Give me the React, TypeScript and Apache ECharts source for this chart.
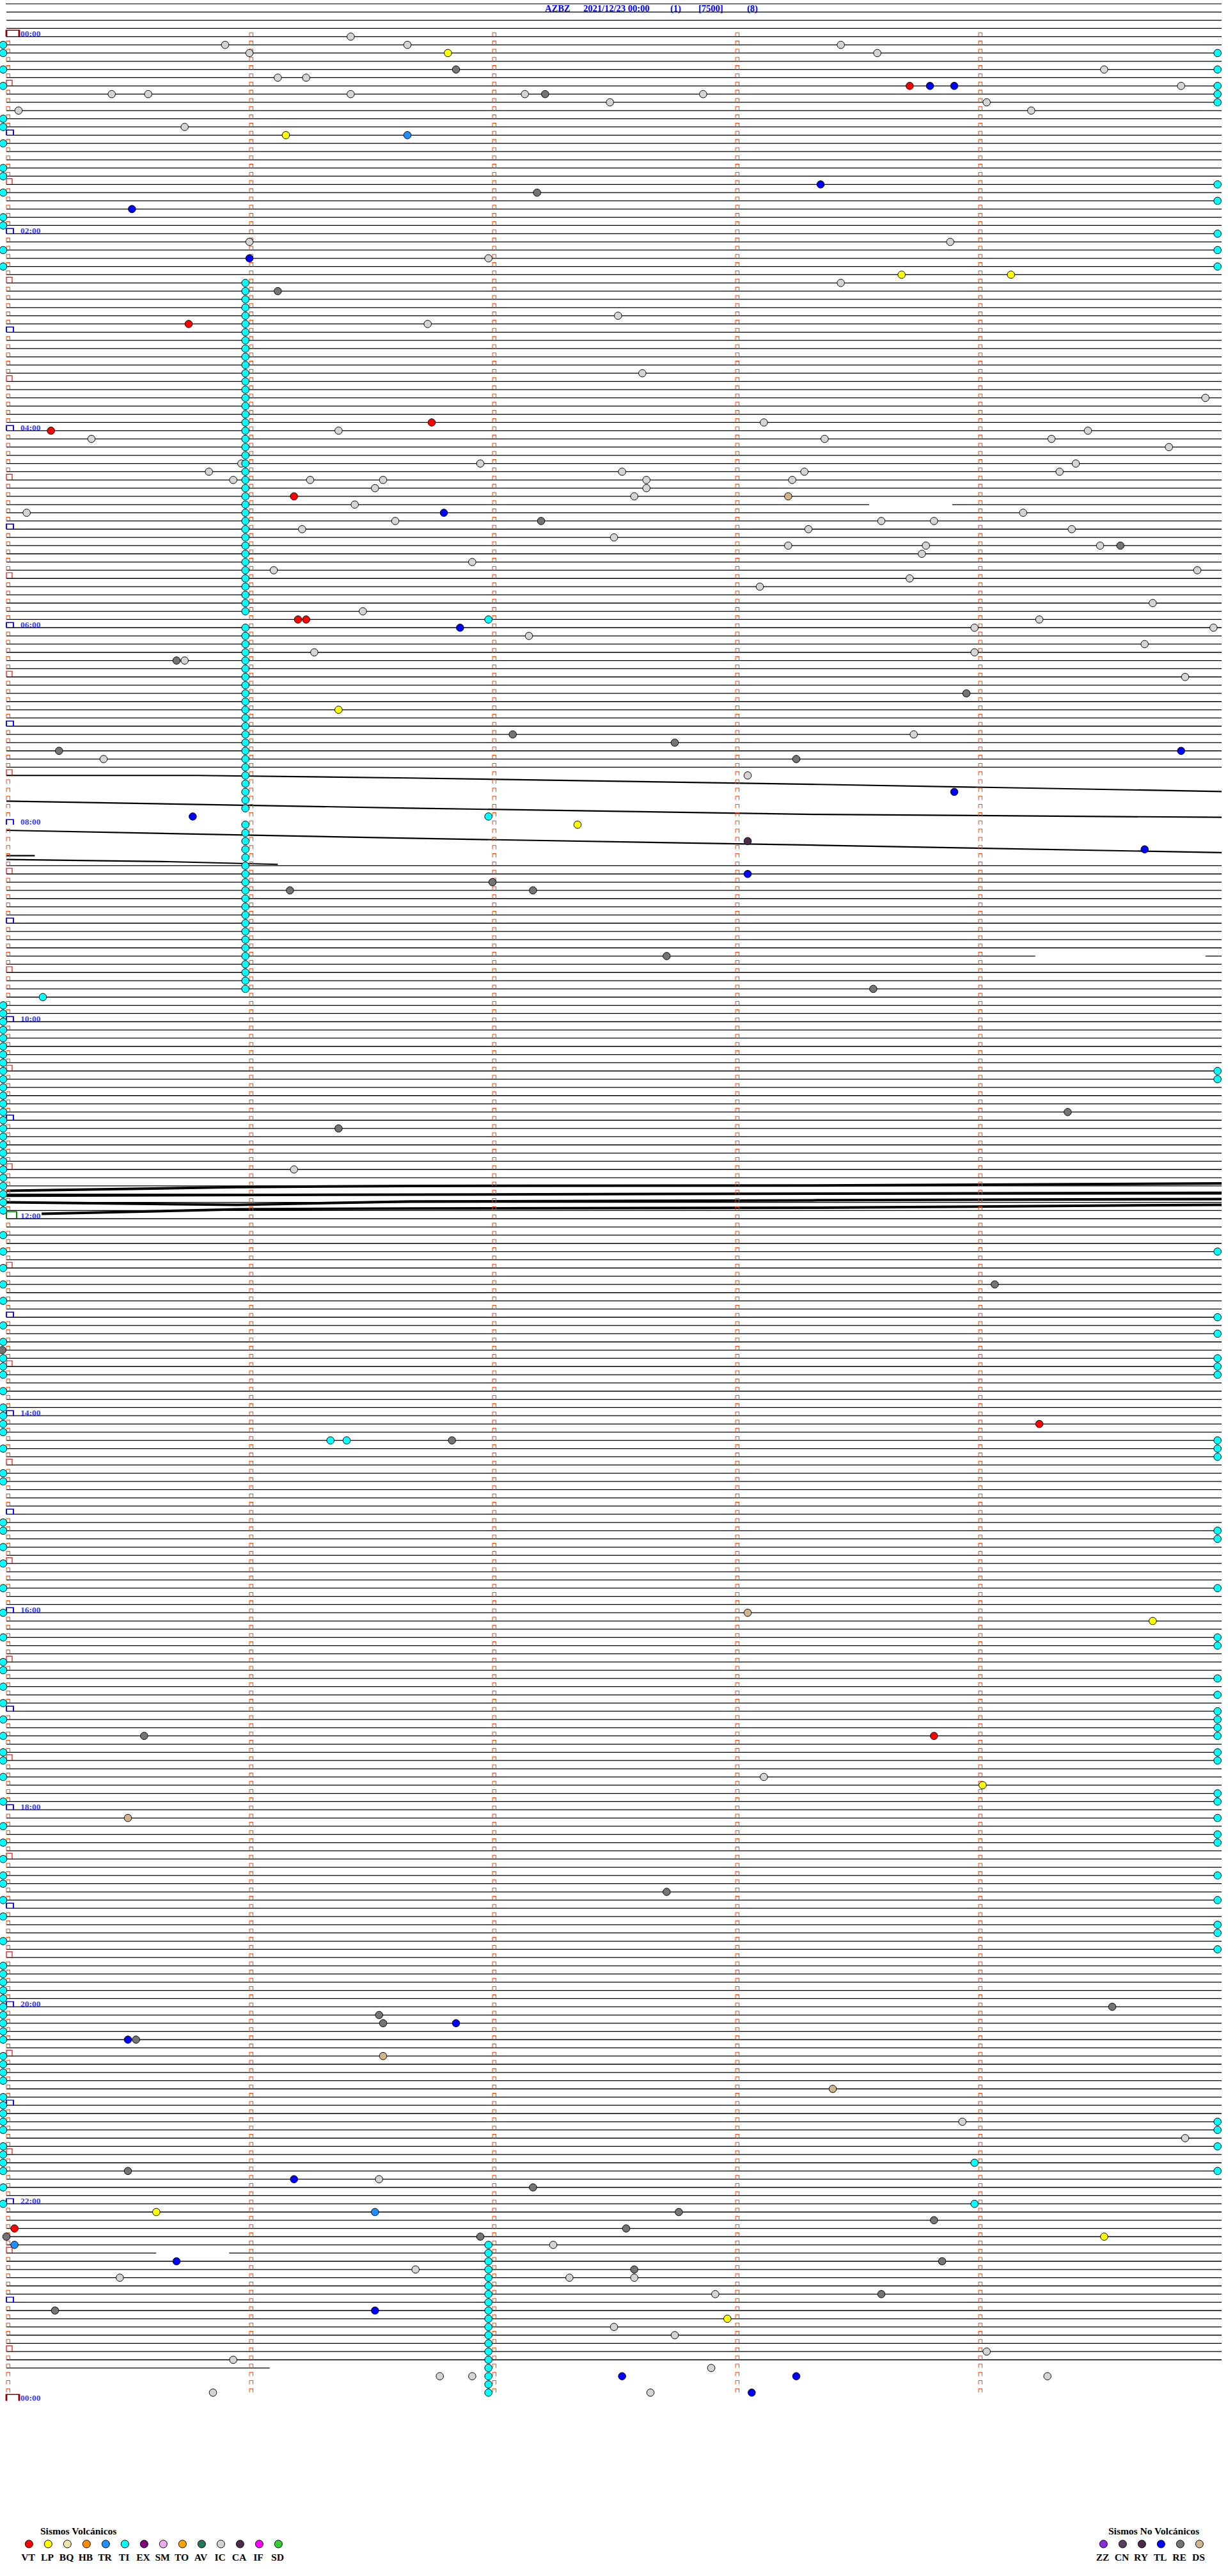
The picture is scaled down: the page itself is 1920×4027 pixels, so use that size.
import React, { useEffect, useRef } from 'react';
import * as echarts from 'echarts';

// ---------- chart texts ----------
const TITLE_PARTS = ['AZBZ', '2021/12/23 00:00', '(1)', '[7500]', '(8)'];
const TITLE_X = [852, 912, 1048, 1092, 1168];
const HOUR_LABELS = ['00:00', '02:00', '04:00', '06:00', '08:00', '10:00', '12:00', '14:00', '16:00', '18:00', '20:00', '22:00', '00:00'];

// ---------- helicorder structure (line index = 5-minute row, x = seconds in row) ----------
const FIRST_LINE = -4;
const LAST_LINE = 284;
const LAST_LINE_END = 65; // seconds of data on the last row
const LAST_MARK_LINE = 287;
const MINUTE_MARKS = [0, 60, 120, 180, 240];
const MISSING_LINES = [91, 92, 94, 95, 97, 98, 99];
const NOISY_LINES = [90, 93, 96, 100];
// [line, gapStartSec, gapEndSec]
const GAPS = [[57, 213, 233.5], [112, 254, 296], [270, 37, 55]];

// noisy traces [sec, line position]
const TRACE_90 = [[0, 90], [47, 90], [99.5, 90.31], [200.5, 91.09], [300, 91.95]];
const TRACE_93 = [[0, 93.12], [99.5, 93.98], [200.5, 94.75], [300, 95.1]];
const TRACE_96 = [[0, 96.68], [99.5, 97.65], [200.5, 98.5], [300, 99.4]];
const TRACE_100 = [[0, 100.23], [40, 100.5], [67, 100.83]];
const TRACE_100B = [[0, 99.77], [7, 99.77]];
const BAND_140 = [[0, 140.6], [57, 140.15], [100, 140.0], [200, 139.95], [300, 139.7]];
const BAND_141 = [[0, 141.2], [100, 141.05], [200, 140.95], [300, 140.85]];
const BAND_142 = [[0, 142.0], [57, 142.3], [100, 141.9], [200, 141.75], [300, 141.6]];
const BAND_143 = [[8.7, 143.4], [57, 142.85], [100, 142.75], [200, 142.65], [300, 142.3]];

// ---------- legend ----------
const VOLC_TYPES = ['VT', 'LP', 'BQ', 'HB', 'TR', 'TI', 'EX', 'SM', 'TO', 'AV', 'IC', 'CA', 'IF', 'SD'];
const VOLC_COLORS = ['#ff0000', '#ffff00', '#eee8aa', '#ff8c00', '#1e90ff', '#00ffff', '#800080', '#eeaaee', '#ffa500', '#1f7a55', '#d4d4d4', '#4b2d4b', '#ff00ff', '#32cd32'];
const NONVOLC_TYPES = ['ZZ', 'CN', 'RY', 'TL', 'RE', 'DS'];
const NONVOLC_COLORS = ['#8a2be2', '#55405f', '#4b2a4b', '#0000ff', '#747474', '#d2b48c'];

// ---------- events [line, sec] ----------
const EV_VT = [[6, 223], [35, 45], [47, 105], [48, 11], [56, 71], [71, 72], [71, 74], [169, 255], [207, 229], [267, 2]];
const EV_LP = [[2, 109], [12, 69], [29, 221], [29, 248], [82, 82], [96, 141], [193, 283], [213, 241], [265, 37], [268, 271], [278, 178]];
const EV_TR = [[12, 99], [265, 91], [269, 2]];
const EV_CA = [[98, 183]];
const EV_DS = [[56, 193], [192, 183], [217, 30], [246, 93], [250, 204]];
const EV_TL = [[6, 228], [6, 234], [18, 201], [21, 31], [27, 60], [58, 108], [72, 112], [87, 290], [92, 234], [95, 46], [99, 281], [102, 183], [242, 111], [244, 30], [261, 71], [271, 42], [277, 91], [285, 152], [285, 195], [287, 184]];
const EV_RE = [[4, 111], [7, 133], [19, 131], [31, 67], [59, 132], [62, 275], [76, 42], [80, 237], [85, 125], [86, 165], [87, 13], [88, 195], [104, 70], [103, 120], [104, 130], [112, 163], [116, 214], [131, 262], [133, 82], [152, 244], [160, -1], [171, 110], [207, 34], [226, 163], [240, 273], [241, 92], [242, 93], [244, 32], [260, 30], [262, 130], [265, 166], [268, 0], [267, 153], [268, 117], [266, 229], [271, 231], [272, 155], [275, 216], [277, 12]];
const EV_IC = [[1, 54], [0, 85], [1, 99], [2, 60], [1, 206], [2, 215], [5, 67], [5, 74], [4, 271], [6, 290], [7, 26], [7, 35], [7, 85], [7, 128], [7, 172], [8, 149], [8, 242], [9, 3], [9, 253], [11, 44], [25, 233], [25, 60], [27, 119], [30, 206], [34, 151], [35, 104], [41, 157], [44, 296], [49, 21], [48, 82], [47, 187], [49, 202], [49, 258], [48, 267], [50, 287], [52, 117], [53, 50], [54, 56], [52, 58], [54, 75], [54, 93], [55, 91], [53, 152], [54, 158], [55, 158], [56, 155], [54, 194], [53, 197], [52, 264], [53, 260], [57, 86], [58, 5], [59, 96], [60, 73], [61, 150], [59, 216], [59, 229], [58, 251], [60, 263], [60, 198], [62, 193], [62, 227], [63, 226], [62, 270], [64, 115], [65, 66], [66, 223], [67, 186], [65, 294], [69, 283], [70, 88], [73, 129], [72, 239], [71, 255], [72, 298], [74, 281], [75, 76], [75, 239], [76, 44], [78, 291], [85, 224], [88, 24], [90, 183], [138, 71], [212, 187], [254, 236], [256, 291], [261, 92], [269, 135], [272, 101], [273, 28], [273, 139], [273, 155], [275, 175], [279, 150], [280, 165], [282, 242], [283, 56], [284, 174], [285, 107], [285, 115], [285, 257], [287, 51], [287, 159]];
const EV_TI = [[71, 119], [95, 119], [117, 9], [171, 80], [171, 84], [259, 239], [264, 239]];
const TI_LEFT_SEC = -0.8;
const TI_LEFT_LINES = [1, 2, 4, 6, 10, 11, 13, 16, 17, 19, 22, 23, 26, 28, 118, 119, 120, 121, 122, 123, 124, 125, 126, 127, 128, 129, 130, 131, 132, 133, 134, 135, 136, 137, 138, 139, 140, 141, 142, 143, 146, 148, 150, 152, 154, 157, 159, 161, 162, 163, 165, 167, 168, 169, 170, 172, 175, 176, 181, 182, 184, 186, 189, 192, 195, 198, 199, 201, 203, 205, 207, 209, 210, 212, 215, 218, 220, 222, 224, 225, 227, 229, 232, 235, 236, 237, 238, 239, 240, 241, 242, 243, 244, 246, 247, 248, 249, 251, 252, 253, 254, 255, 257, 258, 259, 260, 262, 264];
const TI_RIGHT_SEC = 299;
const TI_RIGHT_LINES = [2, 4, 6, 7, 8, 18, 20, 24, 26, 28, 126, 127, 148, 156, 158, 161, 162, 163, 171, 172, 173, 182, 183, 189, 195, 196, 200, 202, 204, 205, 206, 207, 209, 210, 214, 215, 217, 219, 220, 224, 227, 230, 231, 233, 254, 255, 257, 260];
const TI_COL_A_SEC = 59;
const TI_COL_A_LINES = [30, 31, 32, 33, 34, 35, 36, 37, 38, 39, 40, 41, 42, 43, 44, 45, 46, 47, 48, 49, 50, 51, 52, 53, 54, 55, 56, 57, 58, 59, 60, 61, 62, 63, 64, 65, 66, 67, 68, 69, 70, 72, 73, 74, 75, 76, 77, 78, 79, 80, 81, 82, 83, 84, 85, 86, 87, 88, 89, 90, 91, 92, 93, 94, 96, 97, 98, 99, 100, 101, 102, 103, 104, 105, 106, 107, 108, 109, 110, 111, 112, 113, 114, 115, 116];
const TI_COL_B_SEC = 119;
const TI_COL_B_LINES = [269, 270, 271, 272, 273, 274, 275, 276, 277, 278, 279, 280, 281, 282, 283, 284, 285, 286, 287];

const SERIF = '"Liberation Serif", "Times New Roman", serif';

function colorOf(t: string) {
  const i = VOLC_TYPES.indexOf(t);
  if (i >= 0) return VOLC_COLORS[i];
  return NONVOLC_COLORS[NONVOLC_TYPES.indexOf(t)];
}

function buildOption() {
  const rows: any[] = [];
  for (let n = FIRST_LINE; n <= LAST_LINE; n++) {
    if (MISSING_LINES.includes(n) || NOISY_LINES.includes(n)) continue;
    const start = n === FIRST_LINE ? -1.6 : 0;
    const end = n === LAST_LINE ? LAST_LINE_END : 300;
    let s = start;
    GAPS.filter((g) => g[0] === n).forEach((g) => {
      rows.push({ coords: [[s, n], [g[1], n]] });
      s = g[2];
    });
    rows.push({ coords: [[s, n], [end, n]] });
  }
  const noisy = [TRACE_90, TRACE_93, TRACE_96, TRACE_100, TRACE_100B].map((c) => ({ coords: c }));
  const bands = [BAND_140, BAND_141, BAND_142, BAND_143].map((c) => ({ coords: c }));

  const marks: any[] = [];
  const hourBoxes: any[] = [];
  const halfBoxes: any[] = [];
  const midBoxes: any[] = [];
  const noonBoxes: any[] = [];
  for (let n = 0; n <= LAST_MARK_LINE + 1; n++) {
    MINUTE_MARKS.forEach((m) => {
      if (n > LAST_MARK_LINE) return;
      if (m === 0 && n % 6 === 0) return;
      marks.push([m, n]);
    });
    if (n % 6 === 0) {
      if (n % 288 === 0) midBoxes.push([0, n]);
      else if (n === 144) noonBoxes.push([0, n]);
      else if (n % 12 === 0) hourBoxes.push([0, n]);
      else halfBoxes.push([0, n]);
    }
  }

  const evSeries = (name: string, list: number[][]) => ({
    type: 'scatter',
    name,
    data: list.map((e) => [e[1], e[0]]),
    symbol: 'circle',
    symbolSize: 11.5,
    clip: false,
    silent: true,
    z: 6,
    itemStyle: { color: colorOf(name), borderColor: '#000', borderWidth: 1, opacity: 1 },
  });

  const tiAll = [
    ...EV_TI,
    ...TI_LEFT_LINES.map((n) => [n, TI_LEFT_SEC]),
    ...TI_RIGHT_LINES.map((n) => [n, TI_RIGHT_SEC]),
    ...TI_COL_A_LINES.map((n) => [n, TI_COL_A_SEC]),
    ...TI_COL_B_LINES.map((n) => [n, TI_COL_B_SEC]),
  ];

  const boxSeries = (data: any[], path: string, size: number[], color: string, width: number) => ({
    type: 'scatter',
    data,
    symbol: path,
    symbolSize: size,
    symbolOffset: [size[0] / 2, -size[1] / 2],
    clip: false,
    silent: true,
    z: 4,
    itemStyle: { color: 'rgba(0,0,0,0)', borderColor: color, borderWidth: width, opacity: 1 },
  });

  const graphic: any[] = [];
  TITLE_PARTS.forEach((t, i) => {
    graphic.push({ type: 'text', x: TITLE_X[i], y: 13, style: { text: t, font: `bold 14.5px ${SERIF}`, fill: '#0000ff', verticalAlign: 'middle' } });
  });
  graphic.push({ type: 'text', left: 63, top: 3948, style: { text: 'Sismos Volcánicos', font: `bold 15.5px ${SERIF}`, fill: '#000' } });
  VOLC_TYPES.forEach((t, i) => {
    graphic.push({ type: 'circle', shape: { cx: 45.3 + 30 * i, cy: 3977, r: 6 }, style: { fill: VOLC_COLORS[i], stroke: '#000', lineWidth: 1 } });
    graphic.push({ type: 'text', x: 44 + 30 * i, y: 3997, style: { text: t, font: `bold 15.5px ${SERIF}`, fill: '#000', align: 'center', verticalAlign: 'middle' } });
  });
  graphic.push({ type: 'text', left: 1733, top: 3948, style: { text: 'Sismos No Volcánicos', font: `bold 15.5px ${SERIF}`, fill: '#000' } });
  NONVOLC_TYPES.forEach((t, i) => {
    graphic.push({ type: 'circle', shape: { cx: 1725.3 + 30 * i, cy: 3977, r: 6 }, style: { fill: NONVOLC_COLORS[i], stroke: '#000', lineWidth: 1 } });
    graphic.push({ type: 'text', x: 1724 + 30 * i, y: 3997, style: { text: t, font: `bold 15.5px ${SERIF}`, fill: '#000', align: 'center', verticalAlign: 'middle' } });
  });

  return {
    animation: false,
    backgroundColor: '#ffffff',
    grid: { left: 10, top: 5.97, width: 1900, height: 3747.2 },
    xAxis: { type: 'value', min: 0, max: 300, show: false },
    yAxis: { type: 'value', min: -4, max: 288, inverse: true, show: false },
    graphic,
    series: [
      { type: 'lines', coordinateSystem: 'cartesian2d', polyline: true, silent: true, z: 2, data: rows, lineStyle: { color: '#000', width: 1.3, opacity: 1 } },
      { type: 'lines', coordinateSystem: 'cartesian2d', polyline: true, silent: true, z: 2, data: noisy, lineStyle: { color: '#000', width: 2.2, opacity: 1 } },
      { type: 'lines', coordinateSystem: 'cartesian2d', polyline: true, silent: true, z: 2, data: bands, lineStyle: { color: '#000', width: 4, opacity: 1 } },
      boxSeries(marks, 'path://M0 6 L0 0 L6 0 L6 6', [5.5, 6], '#ff4500', 1),
      boxSeries(halfBoxes, 'path://M0 9 L0 0 L9 0 L9 9', [9, 9], '#ff0000', 1.2),
      boxSeries(hourBoxes, 'path://M0 8 L0 0 L11 0 L11 8', [11, 8], '#0000ff', 1.6),
      boxSeries(midBoxes, 'path://M0 10 L0 0 L20 0 L20 10', [20, 10], '#8b0000', 2),
      boxSeries(noonBoxes, 'path://M0 11 L0 0 L16 0 L16 11', [16, 11], '#008000', 1.6),
      evSeries('IC', EV_IC),
      evSeries('RE', EV_RE),
      evSeries('VT', EV_VT),
      evSeries('LP', EV_LP),
      evSeries('TR', EV_TR),
      evSeries('CA', EV_CA),
      evSeries('DS', EV_DS),
      evSeries('TL', EV_TL),
      evSeries('TI', tiAll),
      {
        type: 'scatter',
        data: HOUR_LABELS.map((_, i) => [0, i * 24]),
        symbolSize: 0,
        clip: false,
        silent: true,
        z: 7,
        label: {
          show: true,
          position: [22, -12],
          formatter: (p: any) => HOUR_LABELS[p.dataIndex],
          color: '#0000ff',
          fontFamily: SERIF,
          fontWeight: 'bold',
          fontSize: 13.5,
        },
      },
    ],
  };
}

export default function App() {
  const ref = useRef<HTMLDivElement>(null);
  useEffect(() => {
    if (!ref.current) return;
    const chart = echarts.init(ref.current, null, { renderer: 'svg' });
    chart.setOption(buildOption() as any);
    return () => chart.dispose();
  }, []);
  return (
    <div
      ref={ref}
      style={{ position: 'absolute', left: 0, top: 0, width: 1920, height: 4027, background: '#fff' }}
    />
  );
}
